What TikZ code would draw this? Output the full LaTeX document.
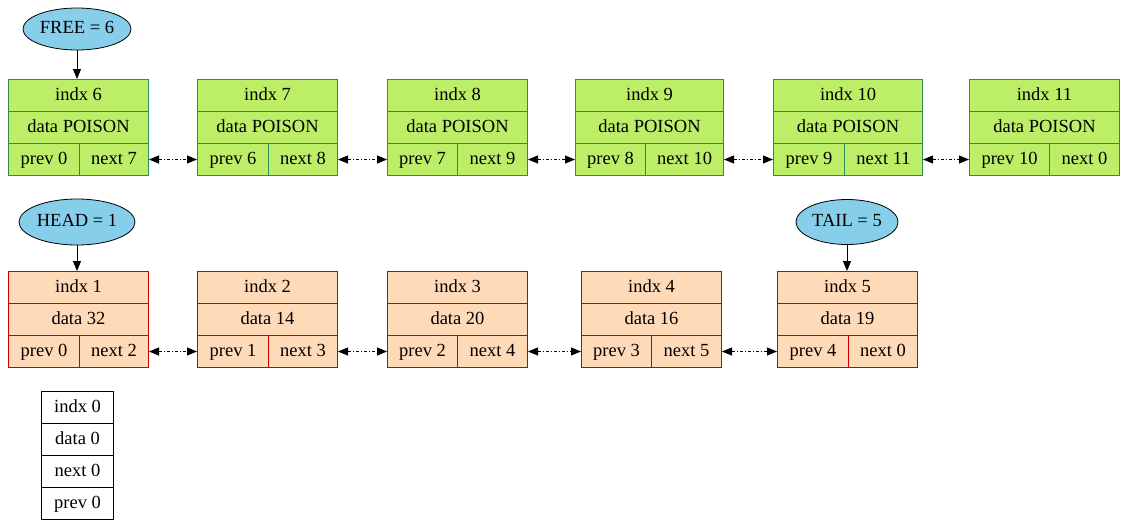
\documentclass[tikz,border=0pt]{standalone}
\usepackage{fontspec}
\setmainfont{Liberation Serif}
\usetikzlibrary{shapes.geometric,arrows.meta}
\definecolor{freeFill}{HTML}{BCEE68}
\definecolor{freeLine}{HTML}{2E8B57}
\definecolor{usedFill}{HTML}{FFDAB9}
\definecolor{usedLine}{HTML}{CD0000}
\definecolor{ptrFill}{HTML}{87CEEB}

\begin{document}
\begin{tikzpicture}[x=1pt, y=-1pt, font=\fontsize{18.5}{20}\selectfont,
    cell/.style={draw, line width=1pt, inner sep=0pt, minimum height=32pt,
                 text height=13pt, text depth=4pt, anchor=north west},
    freecell/.style={cell, fill=freeFill, draw=freeLine},
    usedcell/.style={cell, fill=usedFill, draw=usedLine},
    nullcell/.style={cell, fill=white, draw=black, minimum width=72pt},
    ptr/.style={ellipse, draw, line width=0.8pt, fill=ptrFill, inner sep=0pt,
                text height=13pt, text depth=4pt},
    tip/.style={-{Triangle[length=10pt,width=8pt]}, line width=1pt},
    link/.style={{Triangle[length=10pt,width=8pt]}-{Triangle[length=10pt,width=8pt]},
                 line width=0.8pt, dash pattern=on 3pt off 2pt on 1pt off 2pt}]

            \useasboundingbox (0,0) rectangle (1125,525);

            % free list
            \node[ptr, minimum width=108pt, minimum height=42pt] (free) at (77,29) {FREE = 6};

            \node[freecell, minimum width=140pt] (f6i) at (8,79) {indx 6};
            \node[freecell, minimum width=140pt] (f6d) at (8,111) {data POISON};
            \node[freecell, minimum width=71pt] (f6p) at (8,143) {prev 0};
            \node[freecell, minimum width=69pt] (f6n) at (79,143) {next 7};

            \node[freecell, minimum width=140pt] (f7i) at (197,79) {indx 7};
            \node[freecell, minimum width=140pt] (f7d) at (197,111) {data POISON};
            \node[freecell, minimum width=71pt] (f7p) at (197,143) {prev 6};
            \node[freecell, minimum width=69pt] (f7n) at (268,143) {next 8};

            \node[freecell, minimum width=140pt] (f8i) at (387,79) {indx 8};
            \node[freecell, minimum width=140pt] (f8d) at (387,111) {data POISON};
            \node[freecell, minimum width=70pt] (f8p) at (387,143) {prev 7};
            \node[freecell, minimum width=70pt] (f8n) at (457,143) {next 9};

            \node[freecell, minimum width=148pt] (f9i) at (575,79) {indx 9};
            \node[freecell, minimum width=148pt] (f9d) at (575,111) {data POISON};
            \node[freecell, minimum width=70pt] (f9p) at (575,143) {prev 8};
            \node[freecell, minimum width=78pt] (f9n) at (645,143) {next 10};

            \node[freecell, minimum width=149pt] (f10i) at (773,79) {indx 10};
            \node[freecell, minimum width=149pt] (f10d) at (773,111) {data POISON};
            \node[freecell, minimum width=71pt] (f10p) at (773,143) {prev 9};
            \node[freecell, minimum width=78pt] (f10n) at (844,143) {next 11};

            \node[freecell, minimum width=150pt] (f11i) at (969,79) {indx 11};
            \node[freecell, minimum width=150pt] (f11d) at (969,111) {data POISON};
            \node[freecell, minimum width=80pt] (f11p) at (969,143) {prev 10};
            \node[freecell, minimum width=70pt] (f11n) at (1049,143) {next 0};

            \draw[tip] (free.south) -- (free.south |- f6i.north);
            \draw[link] (f6n.east) -- (f7p.west);
            \draw[link] (f7n.east) -- (f8p.west);
            \draw[link] (f8n.east) -- (f9p.west);
            \draw[link] (f9n.east) -- (f10p.west);
            \draw[link] (f10n.east) -- (f11p.west);

            % used list
            \node[ptr, minimum width=116pt, minimum height=46pt] (head) at (77,222) {HEAD = 1};
            \node[ptr, minimum width=102pt, minimum height=45pt] (tail) at (847,222) {TAIL = 5};

            \node[usedcell, minimum width=140pt] (u1i) at (8,271) {indx 1};
            \node[usedcell, minimum width=140pt] (u1d) at (8,303) {data 32};
            \node[usedcell, minimum width=71pt] (u1p) at (8,335) {prev 0};
            \node[usedcell, minimum width=69pt] (u1n) at (79,335) {next 2};

            \node[usedcell, minimum width=140pt] (u2i) at (197,271) {indx 2};
            \node[usedcell, minimum width=140pt] (u2d) at (197,303) {data 14};
            \node[usedcell, minimum width=71pt] (u2p) at (197,335) {prev 1};
            \node[usedcell, minimum width=69pt] (u2n) at (268,335) {next 3};

            \node[usedcell, minimum width=140pt] (u3i) at (387,271) {indx 3};
            \node[usedcell, minimum width=140pt] (u3d) at (387,303) {data 20};
            \node[usedcell, minimum width=70pt] (u3p) at (387,335) {prev 2};
            \node[usedcell, minimum width=70pt] (u3n) at (457,335) {next 4};

            \node[usedcell, minimum width=140pt] (u4i) at (581,271) {indx 4};
            \node[usedcell, minimum width=140pt] (u4d) at (581,303) {data 16};
            \node[usedcell, minimum width=70pt] (u4p) at (581,335) {prev 3};
            \node[usedcell, minimum width=70pt] (u4n) at (651,335) {next 5};

            \node[usedcell, minimum width=140pt] (u5i) at (777,271) {indx 5};
            \node[usedcell, minimum width=140pt] (u5d) at (777,303) {data 19};
            \node[usedcell, minimum width=71pt] (u5p) at (777,335) {prev 4};
            \node[usedcell, minimum width=69pt] (u5n) at (848,335) {next 0};

            \draw[tip] (head.south) -- (head.south |- u1i.north);
            \draw[tip] (tail.south) -- (tail.south |- u5i.north);
            \draw[link] (u1n.east) -- (u2p.west);
            \draw[link] (u2n.east) -- (u3p.west);
            \draw[link] (u3n.east) -- (u4p.west);
            \draw[link] (u4n.east) -- (u5p.west);

            % null element
            \node[nullcell] (z0i) at (41,391) {indx 0};
            \node[nullcell] (z0d) at (41,423) {data 0};
            \node[nullcell] (z0n) at (41,455) {next 0};
            \node[nullcell] (z0p) at (41,487) {prev 0};

        \end{tikzpicture}
\end{document}
